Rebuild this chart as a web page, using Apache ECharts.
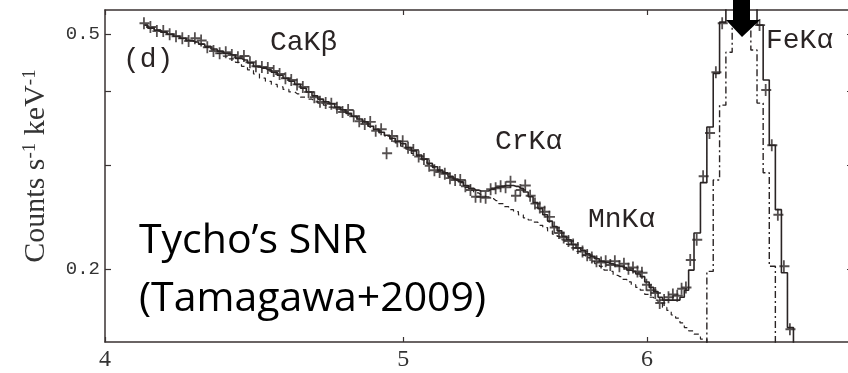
<!DOCTYPE html>
<html><head><meta charset="utf-8">
<script src="https://cdn.jsdelivr.net/npm/echarts@6/dist/echarts.min.js"></script>
<style>html,body{margin:0;padding:0;background:#fff}#c{width:848px;height:373px}</style>
</head><body><div id="c"></div>
<script>
// energy bins (keV)
const energy = [4.12,4.14,4.16,4.18,4.20,4.22,4.24,4.26,4.28,4.30,
 4.32,4.34,4.36,4.38,4.40,4.42,4.44,4.46,4.48,4.50,
 4.52,4.54,4.56,4.58,4.60,4.62,4.64,4.66,4.68,4.70,
 4.72,4.74,4.76,4.78,4.80,4.82,4.84,4.86,4.88,4.90,
 4.92,4.94,4.96,4.98,5.00,5.02,5.04,5.06,5.08,5.10,
 5.12,5.14,5.16,5.18,5.20,5.22,5.24,5.26,5.28,5.30,
 5.32,5.34,5.36,5.38,5.40,5.42,5.44,5.46,5.48,5.50,
 5.52,5.54,5.56,5.58,5.60,5.62,5.64,5.66,5.68,5.70,
 5.72,5.74,5.76,5.78,5.80,5.82,5.84,5.86,5.88,5.90,
 5.92,5.94,5.96,5.98,6.00,6.02,6.04,6.06,6.08,6.10,
 6.12,6.14,6.16,6.18,
 6.20,6.23,6.26,6.29,6.32,6.35,6.38,6.41,6.44,6.47,6.50,6.53,6.56,6.59,6.62,6.65,6.68,6.71];

// observed counts (crosses)
const counts = [.522,.514,.506,.506,.500,.496,.492,.487,.492,.488,
 .475,.468,.464,.466,.461,.457,.459,.448,.441,.440,
 .438,.433,.428,.421,.418,.411,.407,.399,.391,.384,
 .382,.381,.375,.369,.372,.363,.356,.352,.355,.343,
 .345,.314,.336,.329,.329,.321,.318,.310,.307,.299,
 .294,.292,.290,.285,.283,.283,.276,.272,.265,.265,
 .264,.273,.274,.276,.275,.281,.266,.272,.277,.266,
 .258,.254,.250,.245,.235,.230,.226,.223,.220,.217,
 .214,.211,.209,.206,.205,.206,.203,.206,.202,.204,
 .200,.201,.198,.197,.188,.184,.182,.175,.177,.179,
 .181,.180,.185,.186,
 .207,.224,.287,.340,.431,.522,.58,.63,.65,.63,.57,.518,.402,.324,.247,.202,.158];

// total model (solid step)
const model = [.518,.512,.508,.504,.500,.496,.492,.488,.485,.481,
 .477,.472,.468,.464,.461,.455,.452,.447,.441,.438,
 .435,.431,.426,.421,.416,.411,.405,.399,.393,.388,
 .384,.381,.376,.372,.367,.363,.359,.355,.349,.345,
 .341,.337,.333,.329,.326,.321,.317,.312,.307,.302,
 .298,.294,.291,.287,.284,.281,.277,.274,.272,.271,
 .271,.273,.275,.276,.277,.277,.276,.274,.270,.265,
 .259,.253,.247,.241,.236,.232,.227,.224,.220,.217,
 .215,.212,.210,.208,.206,.205,.204,.203,.202,.201,
 .199,.198,.196,.194,.190,.186,.183,.179,.177,.177,
 .177,.177,.179,.184,
 .199,.230,.280,.348,.429,.524,.60,.66,.68,.66,.60,.518,.418,.324,.252,.197,.159,.12];

// continuum (dashed step)
const continuum = [.518,.512,.508,.504,.500,.496,.492,.488,.485,.481,
 .475,.470,.464,.459,.454,.448,.441,.435,.428,.421,
 .416,.411,.407,.403,.399,.396,.391,.388,.385,.382,
 .379,.376,.373,.369,.366,.362,.358,.353,.349,.344,
 .340,.336,.332,.327,.323,.319,.314,.311,.306,.301,
 .297,.293,.290,.286,.283,.280,.275,.272,.269,.267,
 .265,.263,.261,.258,.255,.252,.250,.247,.244,.242,
 .240,.237,.235,.232,.229,.227,.224,.220,.217,.214,
 .211,.209,.206,.204,.202,.199,.198,.195,.194,.192,
 .190,.188,.186,.184,.181,.179,.177,.175,.172,.170,
 .167,.165,.162,.159,
 .157,.155,.152,.149];

// Fe K-alpha line component (dash-dot step)
const feEnergy = [6.26,6.29,6.32,6.35,6.38,6.41,6.44,6.47,6.50,6.53,6.56,6.59,6.62];
const feLine   = [.10,.198,.283,.379,.466,.52,.54,.514,.470,.382,.291,.202,.10];

const xTicks = [4,5,6];
const yTicks = [0.2,0.3,0.4,0.5];
const yLabelTicks = [0.2,0.5];
const xRange = [4,7];
const yRange = [0.1503,0.5495];

const lg = Math.log10;
const pairs = (xs, ys) => ys.map((v,i)=>[lg(xs[i]), lg(v)]);
const INK = '#2a2424';
const AX = '#3a3232';
const MONO = '"Liberation Mono","DejaVu Sans Mono",monospace';
const SERIF = '"Liberation Serif","DejaVu Serif",serif';

function xAxisDef(pos, labels){
  return {type:'value', position:pos, min:lg(xRange[0]), max:lg(xRange[1]),
    axisLine:{show:true,onZero:false,lineStyle:{color:AX,width:1.5}},
    axisTick:{show:true,inside:true,length:5,customValues:xTicks.map(lg),lineStyle:{color:AX,width:1.2}},
    axisLabel:{show:labels,customValues:xTicks.map(lg),formatter:v=>String(Math.round(Math.pow(10,v))),
      fontFamily:SERIF,fontSize:24,color:'#333',margin:6},
    splitLine:{show:false}};
}
function yAxisDef(pos, labels){
  return {type:'value', position:pos, min:lg(yRange[0]), max:lg(yRange[1]),
    axisLine:{show:true,onZero:false,lineStyle:{color:AX,width:1.5}},
    axisTick:{show:true,inside:true,length:6,customValues:yTicks.map(lg),lineStyle:{color:AX,width:1.2}},
    axisLabel:{show:labels,customValues:yLabelTicks.map(lg),formatter:v=>Math.pow(10,v).toFixed(1),
      fontFamily:MONO,fontSize:19,color:'#333',margin:5},
    splitLine:{show:false}};
}

const chart = echarts.init(document.getElementById('c'), null, {renderer:'canvas'});
chart.setOption({
  animation:false,
  backgroundColor:'#fff',
  grid:{left:105, top:10, width:748, height:332, containLabel:false, outerBoundsMode:'none'},
  xAxis:[xAxisDef('bottom',true), xAxisDef('top',false)],
  yAxis:[yAxisDef('left',true), yAxisDef('right',false)],
  series:[
    {type:'line', data:pairs(energy, continuum), step:'middle', symbol:'none', clip:true,
      lineStyle:{color:INK,width:1.2,type:[5,4]}, z:2},
    {type:'line', data:pairs(feEnergy, feLine), step:'middle', symbol:'none', clip:true,
      lineStyle:{color:INK,width:1.4,type:[7,3,2,3]}, z:2},
    {type:'line', data:pairs(energy, model), step:'middle', symbol:'none', clip:true,
      lineStyle:{color:INK,width:1.6}, z:3},
    {type:'scatter', data:pairs(energy, counts), clip:true,
      symbol:'path://M32,0H48V46H90V64H48V110H32V64H0V46H32Z', symbolSize:[10,12],
      itemStyle:{color:INK}, z:4}
  ],
  graphic:[
    {type:'polygon', z:100, shape:{points:[[733,0],[750,0],[750,20],[760,20],[742,37],[726,20],[733,20]]}, style:{fill:'#000'}},
    {type:'text', z:50, x:123, y:60, style:{text:'(d)', fontFamily:MONO, fontSize:28, fill:INK, verticalAlign:'middle'}},
    {type:'text', z:50, x:270, y:43, style:{text:'CaKβ', fontFamily:MONO, fontSize:28, fill:INK, verticalAlign:'middle'}},
    {type:'text', z:50, x:495, y:142, style:{text:'CrKα', fontFamily:MONO, fontSize:28, fill:INK, verticalAlign:'middle'}},
    {type:'text', z:50, x:588, y:220, style:{text:'MnKα', fontFamily:MONO, fontSize:28, fill:INK, verticalAlign:'middle'}},
    {type:'text', z:50, x:766, y:41, style:{text:'FeKα', fontFamily:MONO, fontSize:28, fill:INK, verticalAlign:'middle'}},
    {type:'text', z:50, x:139, y:241, style:{text:'Tycho’s SNR', fontFamily:'"Open Sans"', fontSize:41, fill:'#000', verticalAlign:'middle'}},
    {type:'text', z:50, x:139, y:299, style:{text:'(Tamagawa+2009)', fontFamily:'"Open Sans"', fontSize:41, fill:'#000', verticalAlign:'middle'}},
    {type:'text', z:50, x:36, y:166, rotation:Math.PI/2,
      style:{text:'Counts s{sup|-1} keV{sup|-1}', fontFamily:SERIF, fontSize:30, fill:'#333',
        align:'center', verticalAlign:'middle',
        rich:{sup:{fontFamily:SERIF, fontSize:19, fill:'#333', verticalAlign:'top'}}}}
  ]
});
</script>
</body></html>
